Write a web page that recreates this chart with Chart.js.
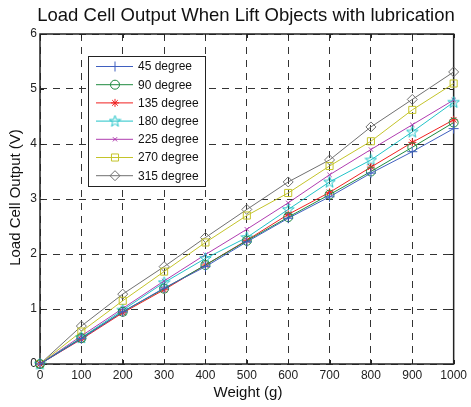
<!DOCTYPE html>
<html lang="en">
<head>
    <meta charset="UTF-8">
    <title>Load Cell Output</title>
    <style>
        body { margin: 0; background: #fff; }
        #wrap { width: 471px; height: 407px; }
    </style>
    <script src="https://cdn.jsdelivr.net/npm/chart.js"></script>
</head>
<body>
    <div id="wrap"><canvas id="myChart" width="471" height="407"></canvas></div>
    <script>
        // weight in g, output in V
        const weights = [0, 100, 200, 300, 400, 500, 600, 700, 800, 900, 1000];
        const deg45  = [0, 0.46, 0.95, 1.38, 1.77, 2.22, 2.65, 3.04, 3.47, 3.86, 4.28];
        const deg90  = [0, 0.47, 0.95, 1.37, 1.80, 2.24, 2.67, 3.08, 3.50, 3.94, 4.39];
        const deg135 = [0, 0.45, 0.93, 1.35, 1.80, 2.25, 2.72, 3.12, 3.58, 4.03, 4.44];
        const deg180 = [0, 0.48, 0.98, 1.48, 1.92, 2.30, 2.81, 3.31, 3.71, 4.22, 4.76];
        const deg225 = [0, 0.51, 1.01, 1.51, 1.99, 2.45, 2.93, 3.44, 3.90, 4.35, 4.80];
        const deg270 = [0, 0.59, 1.15, 1.68, 2.21, 2.70, 3.11, 3.60, 4.05, 4.62, 5.10];
        const deg315 = [0, 0.69, 1.27, 1.77, 2.30, 2.81, 3.31, 3.71, 4.31, 4.81, 5.31];
        const seriesNames = ['45 degree', '90 degree', '135 degree', '180 degree', '225 degree', '270 degree', '315 degree'];
        const xTicks = [0, 100, 200, 300, 400, 500, 600, 700, 800, 900, 1000];
        const yTicks = [0, 1, 2, 3, 4, 5, 6];

        const FONT = '"Liberation Sans", Arial, Helvetica, sans-serif';

        // pentagram marker for the 180 degree series
        function makeStar(color) {
            const c = document.createElement('canvas');
            c.width = 13; c.height = 13;
            const g = c.getContext('2d');
            g.strokeStyle = color;
            g.lineWidth = 1;
            g.beginPath();
            for (let i = 0; i < 10; i++) {
                const r = i % 2 === 0 ? 6 : 2.4;
                const a = -Math.PI / 2 + i * Math.PI / 5;
                const px = 6.5 + r * Math.cos(a), py = 6.8 + r * Math.sin(a);
                if (i === 0) g.moveTo(px, py); else g.lineTo(px, py);
            }
            g.closePath();
            g.stroke();
            return c;
        }

        const styles = [
            { color: '#3f5fbf', point: 'cross', r: 5 },
            { color: '#1f8a3f', point: 'circle', r: 4.5 },
            { color: '#f02020', point: 'star', r: 4 },
            { color: '#22c3c8', point: makeStar('#22c3c8'), r: 6 },
            { color: '#b03cb0', point: 'crossRot', r: 3 },
            { color: '#c4c42a', point: 'rect', r: 5 },
            { color: '#707070', point: 'rectRot', r: 5 }
        ];
        const allSeries = [deg45, deg90, deg135, deg180, deg225, deg270, deg315];

        const datasets = allSeries.map((vals, i) => ({
            label: seriesNames[i],
            data: weights.map((w, j) => ({ x: w, y: vals[j] })),
            borderColor: styles[i].color,
            backgroundColor: 'rgba(0,0,0,0)',
            borderWidth: 1,
            pointStyle: styles[i].point,
            pointRadius: styles[i].r,
            pointBorderColor: styles[i].color,
            pointBorderWidth: 1,
            pointBackgroundColor: 'rgba(0,0,0,0)',
            fill: false,
            tension: 0,
            clip: false
        }));

        // box, inner tick marks, title, axis titles and legend
        const framePlugin = {
            id: 'frame',
            beforeDatasetsDraw(chart) {
                const ctx = chart.ctx, a = chart.chartArea;
                const xs = chart.scales.x, ys = chart.scales.y;
                ctx.save();
                ctx.strokeStyle = '#222';
                ctx.lineWidth = 1;
                ctx.beginPath();
                xTicks.forEach(t => {
                    const px = Math.round(xs.getPixelForValue(t)) + 0.5;
                    ctx.moveTo(px, a.bottom); ctx.lineTo(px, a.bottom - 4);
                    ctx.moveTo(px, a.top); ctx.lineTo(px, a.top + 4);
                });
                yTicks.forEach(t => {
                    const py = Math.round(ys.getPixelForValue(t)) + 0.5;
                    ctx.moveTo(a.left, py); ctx.lineTo(a.left + 4, py);
                    ctx.moveTo(a.right, py); ctx.lineTo(a.right - 4, py);
                });
                ctx.stroke();
                ctx.lineWidth = 1.5;
                ctx.strokeRect(a.left, a.top, a.right - a.left, a.bottom - a.top);
                ctx.restore();
            },
            afterDraw(chart) {
                const ctx = chart.ctx, a = chart.chartArea;
                ctx.save();
                ctx.fillStyle = '#111';
                ctx.textAlign = 'center';
                ctx.textBaseline = 'middle';
                ctx.font = '18.5px ' + FONT;
                ctx.fillText('Load Cell Output When Lift Objects with lubrication', 246, 16);
                ctx.font = '15px ' + FONT;
                ctx.fillText('Weight (g)', 248, 393);
                ctx.translate(16, 197.5);
                ctx.rotate(-Math.PI / 2);
                ctx.fillText('Load Cell Output (V)', 0, 0);
                ctx.restore();

                // legend
                ctx.save();
                ctx.fillStyle = '#fff';
                ctx.fillRect(88, 56, 117, 130);
                ctx.strokeStyle = '#222';
                ctx.lineWidth = 1;
                ctx.strokeRect(88.5, 56.5, 117, 130);
                ctx.font = '12px ' + FONT;
                ctx.textAlign = 'left';
                ctx.textBaseline = 'middle';
                seriesNames.forEach((name, i) => {
                    const y = 66.5 + i * 18.2;
                    const st = styles[i];
                    ctx.strokeStyle = st.color;
                    ctx.lineWidth = 1;
                    ctx.beginPath();
                    ctx.moveTo(96, y); ctx.lineTo(133, y);
                    ctx.stroke();
                    ctx.fillStyle = 'rgba(0,0,0,0)';
                    Chart.helpers.drawPoint(ctx, {
                        pointStyle: st.point, radius: st.r, borderWidth: 1, rotation: 0
                    }, 115, y);
                    ctx.fillStyle = '#111';
                    ctx.fillText(name, 138, y + 0.5);
                });
                ctx.restore();
            }
        };

        const ctx = document.getElementById('myChart').getContext('2d');
        const myChart = new Chart(ctx, {
            type: 'line',
            data: { datasets: datasets },
            options: {
                responsive: false,
                animation: false,
                layout: { padding: { top: 34, right: 14, left: 0, bottom: 0 } },
                plugins: { legend: { display: false }, tooltip: { enabled: false } },
                scales: {
                    x: {
                        type: 'linear',
                        min: 0, max: 1000,
                        afterBuildTicks: s => { s.ticks = xTicks.map(v => ({ value: v })); },
                        afterFit: s => { s.height = 43; },
                        grid: { color: '#333', lineWidth: 1, drawTicks: false },
                        border: { display: false, dash: [7, 6] },
                        ticks: { font: { family: FONT, size: 12 }, color: '#222', padding: 4, maxRotation: 0,
                                 callback: v => String(v) }
                    },
                    y: {
                        type: 'linear',
                        min: 0, max: 6,
                        afterBuildTicks: s => { s.ticks = yTicks.map(v => ({ value: v })); },
                        afterFit: s => { s.width = 40; },
                        grid: { color: '#333', lineWidth: 1, drawTicks: false },
                        border: { display: false, dash: [7, 6] },
                        ticks: { font: { family: FONT, size: 12 }, color: '#222', padding: 3,
                                 callback: v => String(v) }
                    }
                }
            },
            plugins: [framePlugin]
        });
    </script>
</body>
</html>
